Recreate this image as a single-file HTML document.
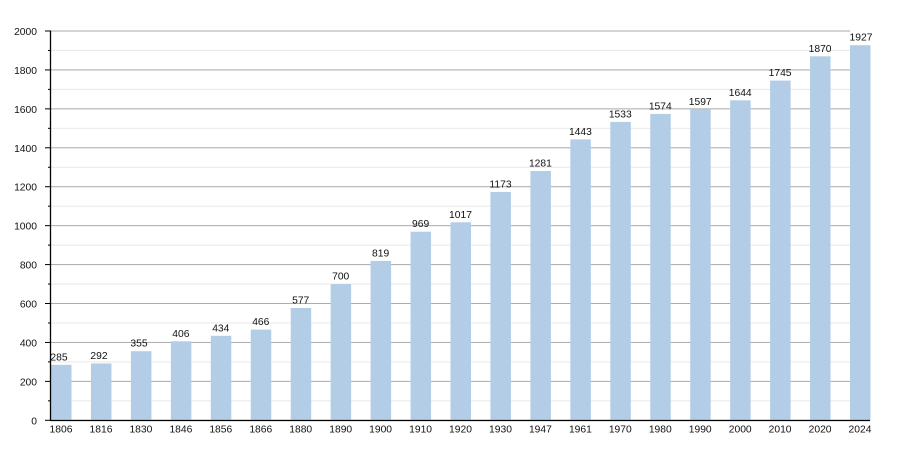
<!DOCTYPE html>
<html><head><meta charset="utf-8"><style>
html,body{margin:0;padding:0;background:#fff;}
svg{display:block;}
text{font-family:"Liberation Sans",Arial,sans-serif;font-size:10.3px;fill:#111;}
</style></head><body>
<svg width="900" height="450" viewBox="0 0 900 450" xmlns="http://www.w3.org/2000/svg">
<defs>
<pattern id="grid" patternUnits="userSpaceOnUse" x="0" y="30.5" width="900" height="38.93">
<rect x="0" y="0" width="900" height="1" fill="#aaaaaa"/>
<rect x="0" y="19.47" width="900" height="1" fill="#e8e8e8"/>
</pattern>
<pattern id="ticks" patternUnits="userSpaceOnUse" x="0" y="30.5" width="60" height="38.93">
<rect x="45" y="0" width="5" height="1" fill="#000"/>
<rect x="48" y="19.47" width="2" height="1" fill="#000"/>
</pattern>
</defs>
<rect x="50" y="30.5" width="800" height="390" fill="url(#grid)"/>
<rect x="45" y="30.5" width="5" height="390.5" fill="url(#ticks)"/>
<g fill="#b3cde6">
<rect x="51" y="364.8" width="20.5" height="55.5"/>
<rect x="90.95" y="363.5" width="20.5" height="56.8"/>
<rect x="130.9" y="351.2" width="20.5" height="69.1"/>
<rect x="170.85" y="341.3" width="20.5" height="79"/>
<rect x="210.8" y="335.8" width="20.5" height="84.5"/>
<rect x="250.75" y="329.6" width="20.5" height="90.7"/>
<rect x="290.7" y="308.0" width="20.5" height="112.3"/>
<rect x="330.65" y="284.1" width="20.5" height="136.2"/>
<rect x="370.6" y="260.9" width="20.5" height="159.4"/>
<rect x="410.55" y="231.7" width="20.5" height="188.6"/>
<rect x="450.5" y="222.3" width="20.5" height="198"/>
<rect x="490.45" y="192.0" width="20.5" height="228.3"/>
<rect x="530.4" y="171.0" width="20.5" height="249.3"/>
<rect x="570.35" y="139.4" width="20.5" height="280.9"/>
<rect x="610.3" y="121.9" width="20.5" height="298.4"/>
<rect x="650.25" y="113.9" width="20.5" height="306.4"/>
<rect x="690.2" y="109.4" width="20.5" height="310.9"/>
<rect x="730.15" y="100.3" width="20.5" height="320"/>
<rect x="770.1" y="80.6" width="20.5" height="339.7"/>
<rect x="810.05" y="56.3" width="20.5" height="364"/>
<rect x="850" y="45.2" width="20.5" height="375.1"/>
</g>
<path d="M50.5 30.5V421M50 420.5H870" stroke="#000" stroke-width="1.3" fill="none"/>
<g text-anchor="end">
<text x="37" y="424.3">0</text>
<text x="37" y="385.4">200</text>
<text x="37" y="346.4">400</text>
<text x="37" y="307.5">600</text>
<text x="37" y="268.6">800</text>
<text x="37" y="229.7">1000</text>
<text x="37" y="190.7">1200</text>
<text x="37" y="151.8">1400</text>
<text x="37" y="112.9">1600</text>
<text x="37" y="73.9">1800</text>
<text x="37" y="35.0">2000</text>
</g>
<g text-anchor="middle">
<text x="61" y="432.5">1806</text>
<text x="101" y="432.5">1816</text>
<text x="140.9" y="432.5">1830</text>
<text x="180.9" y="432.5">1846</text>
<text x="220.8" y="432.5">1856</text>
<text x="260.8" y="432.5">1866</text>
<text x="300.7" y="432.5">1880</text>
<text x="340.7" y="432.5">1890</text>
<text x="380.6" y="432.5">1900</text>
<text x="420.6" y="432.5">1910</text>
<text x="460.5" y="432.5">1920</text>
<text x="500.5" y="432.5">1930</text>
<text x="540.4" y="432.5">1947</text>
<text x="580.4" y="432.5">1961</text>
<text x="620.3" y="432.5">1970</text>
<text x="660.3" y="432.5">1980</text>
<text x="700.2" y="432.5">1990</text>
<text x="740.2" y="432.5">2000</text>
<text x="780.1" y="432.5">2010</text>
<text x="820.1" y="432.5">2020</text>
<text x="860" y="432.5">2024</text>
<text x="59" y="360.3">285</text>
<text x="99" y="359.0">292</text>
<text x="139" y="346.7">355</text>
<text x="180.9" y="336.8">406</text>
<text x="220.8" y="331.3">434</text>
<text x="260.8" y="325.1">466</text>
<text x="300.7" y="303.5">577</text>
<text x="340.7" y="279.6">700</text>
<text x="380.6" y="256.4">819</text>
<text x="420.6" y="227.2">969</text>
<text x="460.5" y="217.8">1017</text>
<text x="500.5" y="187.5">1173</text>
<text x="540.4" y="166.5">1281</text>
<text x="580.4" y="134.9">1443</text>
<text x="620.3" y="117.4">1533</text>
<text x="660.3" y="109.4">1574</text>
<text x="700.2" y="104.9">1597</text>
<text x="740.2" y="95.8">1644</text>
<text x="780.1" y="76.1">1745</text>
<text x="820.1" y="51.8">1870</text>
<text x="861" y="40.7">1927</text>
</g>
</svg>
</body></html>
